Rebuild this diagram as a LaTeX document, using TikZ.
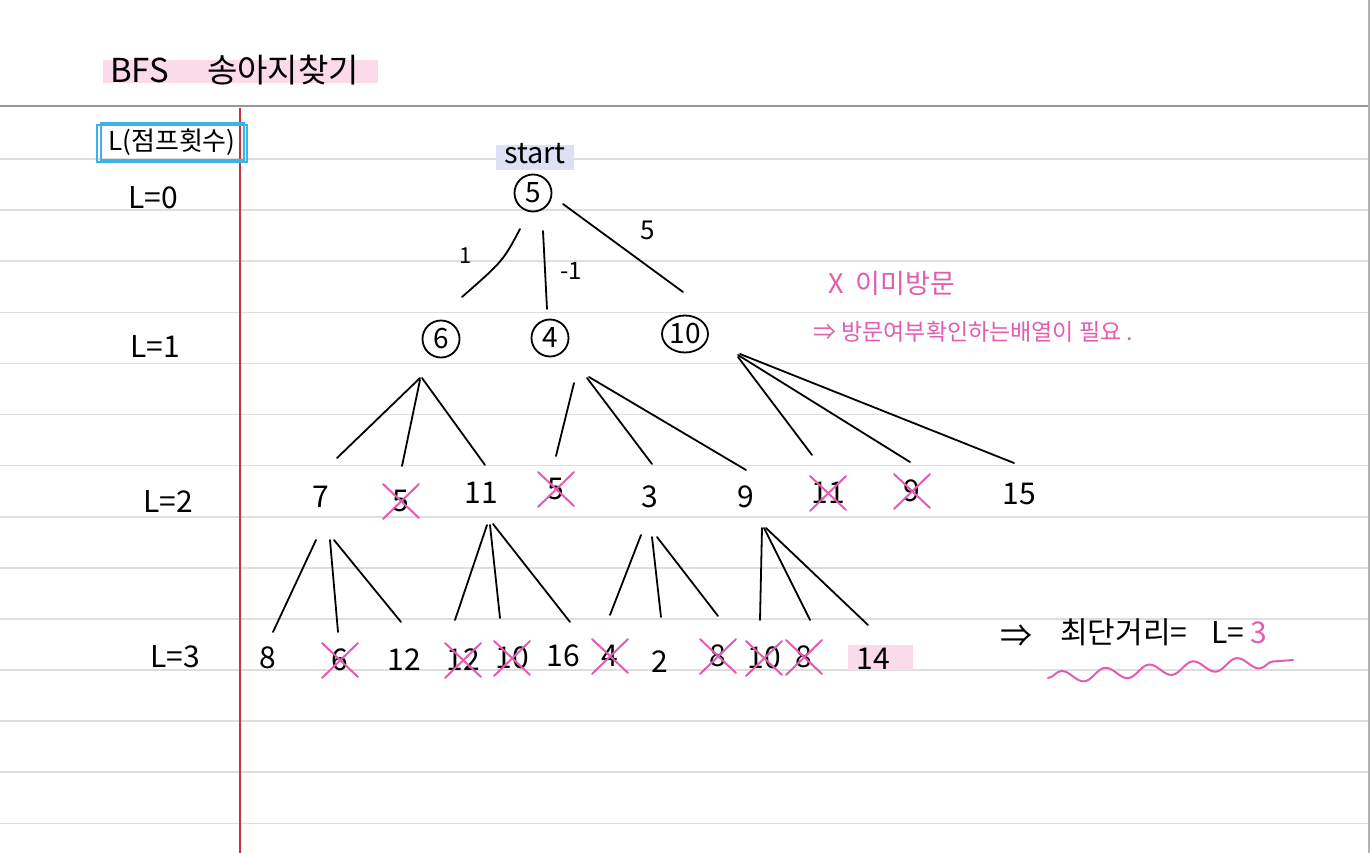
\documentclass[tikz,border=0pt]{standalone}
\usepackage{fontspec}
\setmainfont{Noto Sans CJK KR}
\usetikzlibrary{decorations.pathmorphing,shapes.geometric}
\definecolor{rule}{RGB}{222,222,222}
\definecolor{topline}{RGB}{150,150,150}
\definecolor{margin}{RGB}{196,52,64}
\definecolor{hlpink}{RGB}{251,218,234}
\definecolor{hlblue}{RGB}{222,224,246}
\definecolor{boxblue}{RGB}{62,178,230}
\definecolor{pen}{RGB}{226,92,176}
\newcommand{\xmarkit}[1]{%
  \draw[xline] ([shift={(-18,-17)}]#1.center) -- ([shift={(18,17)}]#1.center);
  \draw[xline] ([shift={(-18,18)}]#1.center) -- ([shift={(18,-17)}]#1.center);}
\tikzset{
  num/.style={font=\fontsize{30}{32}\selectfont, inner sep=0pt},
  circ/.style={num, font=\fontsize{28}{30}\selectfont, draw, circle, minimum size=37pt, line width=1.8pt},
  lvl/.style={font=\fontsize{30}{32}\selectfont, inner sep=0pt},
  edge/.style={line width=1.8pt, black, line cap=round},
  xline/.style={line width=2pt, pen, line cap=round},
  ruled/.style={line width=1.6pt, rule},
  note/.style={font=\fontsize{23}{25}\selectfont, inner sep=0pt, text=pen, anchor=west}
}
\begin{document}
\begin{tikzpicture}[x=1pt,y=-1pt]
\useasboundingbox (0,0) rectangle (1370,853);
\fill[white] (0,0) rectangle (1370,853);
% ruled paper
\foreach \k in {0,...,13}{\draw[ruled] (0,{159+51.1*\k}) -- (1369,{159+51.1*\k});}
\draw[line width=2pt, topline] (0,106) -- (1369,106);
\draw[line width=1.5pt, rule!80!black] (1369,0) -- (1369,853);
\draw[line width=2pt, margin] (240,108) -- (240,853);
% title
\fill[hlpink] (103,60) rectangle (378,83);
\node[font=\fontsize{33}{35}\selectfont, inner sep=0pt, anchor=west] (title) at (110,70) {BFS\hspace{38pt}송아지찾기};
% L label box
\node[font=\fontsize{26}{28}\selectfont, inner sep=0pt] (Lhead) at (172,142) {L(점프횟수)};
\draw[line width=2.5pt, boxblue] (97,125) rectangle (247,162);
\draw[line width=1.5pt, boxblue] (101,123) rectangle (244,160);
% level labels
\node[lvl] (L0) at (153,198) {L=0};
\node[lvl] (L1) at (155,347) {L=1};
\node[lvl] (L2) at (168,502) {L=2};
\node[lvl] (L3) at (175,657) {L=3};
% start
\fill[hlblue] (496,145) rectangle (574,170);
\node[font=\fontsize{29}{31}\selectfont, inner sep=0pt] (start) at (535,154) {start};
% level 0 / 1
\node[circ] (n5) at (533,193) {5};
\node[circ] (n6) at (441,339) {6};
\node[circ] (n4) at (550,338) {4};
\node[num, font=\fontsize{28}{30}\selectfont, draw, ellipse, line width=1.8pt, minimum width=46pt, minimum height=37pt, inner sep=0pt] (n10) at (685,334) {10};
\draw[edge] ([shift={(-13,36)}]n5.center) .. controls ([shift={(-30,68)}]n5.center) .. ([shift={(21,-42)}]n6.center);
\draw[edge] ([shift={(10,38)}]n5.center) -- ([shift={(-3,-29)}]n4.center);
\draw[edge] ([shift={(30,11)}]n5.center) -- ([shift={(-2,-42)}]n10.center);
\node[num, font=\fontsize{22}{24}\selectfont] (e1) at (466,256) {1};
\node[num, font=\fontsize{24}{26}\selectfont] (e2) at (571,271) {-1};
\node[num, font=\fontsize{26}{28}\selectfont] (e3) at (648,230) {5};
% level 2
\node[num] (a7) at (321,497) {7};
\node[num] (a5) at (401,501) {5};
\node[num] (a11) at (481,493) {11};
\node[num] (b5) at (556,489) {5};
\node[num] (b3) at (650,497) {3};
\node[num] (b9) at (746,497) {9};
\node[num] (c11) at (828,493) {11};
\node[num] (c9) at (912,491) {9};
\node[num] (c15) at (1019,494) {15};
\draw[edge] ([shift={(-21,39)}]n6.center) -- ([shift={(16,-39)}]a7.center);
\draw[edge] ([shift={(-21,41)}]n6.center) -- ([shift={(1,-35)}]a5.center);
\draw[edge] ([shift={(-19,39)}]n6.center) -- ([shift={(4,-28)}]a11.center);
\draw[edge] ([shift={(24,45)}]n4.center) -- ([shift={(0,-33)}]b5.center);
\draw[edge] ([shift={(37,40)}]n4.center) -- ([shift={(2,-33)}]b3.center);
\draw[edge] ([shift={(39,39)}]n4.center) -- ([shift={(0,-27)}]b9.center);
\draw[edge] ([shift={(53,23)}]n10.center) -- ([shift={(-16,-38)}]c11.center);
\draw[edge] ([shift={(53,21)}]n10.center) -- ([shift={(-2,-29)}]c9.center);
\draw[edge] ([shift={(55,20)}]n10.center) -- ([shift={(-5,-31)}]c15.center);
% level 3
\node[num] (d8) at (268,658) {8};
\node[num] (d6) at (340,660) {6};
\node[num] (d12) at (404,660) {12};
\node[num] (e12) at (463,660) {12};
\node[num] (e10) at (512,658) {10};
\node[num] (e16) at (563,656) {16};
\node[num] (f4) at (610,656) {4};
\node[num] (f2) at (660,662) {2};
\node[num] (f8) at (718,656) {8};
\node[num] (g10) at (764,658) {10};
\node[num] (g8) at (804,657) {8};
\fill[hlpink] (848,645) rectangle (913,670);
\node[num] (g14) at (873,659) {14};
\draw[edge] ([shift={(-5,43)}]a7.center) -- ([shift={(5,-26)}]d8.center);
\draw[edge] ([shift={(9,43)}]a7.center) -- ([shift={(-2,-28)}]d6.center);
\draw[edge] ([shift={(13,43)}]a7.center) -- ([shift={(-3,-38)}]d12.center);
\draw[edge] ([shift={(6,32)}]a11.center) -- ([shift={(-8,-40)}]e12.center);
\draw[edge] ([shift={(9,32)}]a11.center) -- ([shift={(-12,-40)}]e10.center);
\draw[edge] ([shift={(12,31)}]a11.center) -- ([shift={(7,-34)}]e16.center);
\draw[edge] ([shift={(-9,38)}]b3.center) -- ([shift={(0,-41)}]f4.center);
\draw[edge] ([shift={(2,40)}]b3.center) -- ([shift={(1,-45)}]f2.center);
\draw[edge] ([shift={(7,40)}]b3.center) -- ([shift={(0,-40)}]f8.center);
\draw[edge] ([shift={(16,31)}]b9.center) -- ([shift={(-4,-38)}]g10.center);
\draw[edge] ([shift={(18,31)}]b9.center) -- ([shift={(6,-37)}]g8.center);
\draw[edge] ([shift={(20,31)}]b9.center) -- ([shift={(-5,-34)}]g14.center);
% cross-outs
\xmarkit{a5}\xmarkit{b5}\xmarkit{c11}\xmarkit{c9}
\xmarkit{d6}\xmarkit{e12}\xmarkit{e10}\xmarkit{f4}\xmarkit{f8}\xmarkit{g10}\xmarkit{g8}
% notes
\node[note, font=\fontsize{27}{29}\selectfont] (n1) at (828,283) {X\hspace{12pt}이미방문};
\node[note] (n2) at (813,332) {⇒ 방문여부확인하는배열이 필요 .};
% result
\node[font=\fontsize{32}{34}\selectfont, inner sep=0pt] (arr) at (1016,636) {⇒};
\node[font=\fontsize{30}{32}\selectfont, inner sep=0pt, anchor=west] (res) at (1060,632) {최단거리=\hspace{24pt}L=\hspace{6pt}\textcolor{pen}{3}};
\draw[line width=2pt, pen, line cap=round, decorate, decoration={snake, amplitude=6pt, segment length=44pt}] ([shift={(-12,46)}]res.west) -- ([shift={(233,28)}]res.west);
\end{tikzpicture}
\end{document}
